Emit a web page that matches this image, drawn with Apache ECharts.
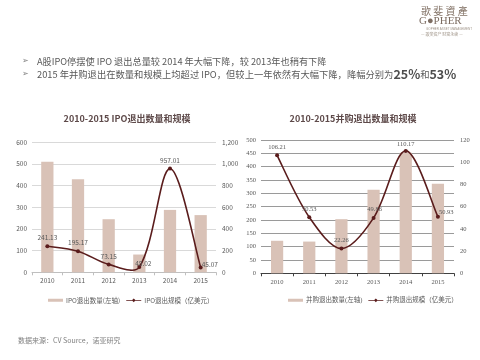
<!DOCTYPE html>
<html><head><meta charset="utf-8">
<script src="https://cdn.jsdelivr.net/npm/echarts@6/dist/echarts.min.js"></script>
<style>html,body{margin:0;padding:0;background:#fff}#c{width:480px;height:360px}</style>
</head><body><div id="c"></div>
<script>
// ---- data ----
const years = ['2010', '2011', '2012', '2013', '2014', '2015'];
const ipoCount = [510, 430, 245, 82, 288, 264];
const ipoScale = [241.13, 195.17, 73.15, 48.02, 957.01, 45.07];
const maCount = [122, 119, 203, 313, 452, 336];
const maScale = [106.21, 50.53, 22.26, 49.86, 110.17, 50.93];
const ipoLabelPos = ['top', 'top', 'top', 'top', 'top', 'right'];
const ipoLabelOffset = [[0, 0], [0, 0], [0, 0], [4, 5], [0, 0], [-4, -3]];
const maLabelPos = ['top', 'top', 'top', 'top', 'top', 'right'];
const maLabelOffset = [[0, 0], [0, 0], [0, 0], [1, 0], [0, 2], [-4, -4]];
const names = {
  ipoBar: 'IPO退出数量(左轴)', ipoLine: 'IPO退出规模（亿美元）',
  maBar: '并购退出数量(左轴)', maLine: '并购退出规模（亿美元）'
};
const titleLeft = '2010-2015 IPO退出数量和规模';
const titleRight = '2010-2015并购退出数量和规模';
const bullet1 = 'A股IPO停摆使 IPO 退出总量较 2014 年大幅下降，较 2013年也稍有下降';
const bullet2a = '2015 年并购退出在数量和规模上均超过 IPO，但较上一年依然有大幅下降，降幅分别为';
const source = '数据来源：CV Source，诺亚研究';

const LINE = '#5a1c1c';
const BAR = '#d9c2b7';
const TXT = '#595959';
const SANS = '"Noto Sans CJK SC", "Noto Sans", sans-serif';
const SERIF = '"Liberation Serif", "DejaVu Serif", "Noto Sans CJK SC", serif';

function smoothLine(xi, yi, values, z) {
  return {
    type: 'custom', xAxisIndex: xi, yAxisIndex: yi, silent: true, z: z,
    data: values.map((v, i) => [i, v]),
    encode: { x: 0, y: 1 },
    renderItem: function (params, api) {
      const n = values.length, i = params.dataIndex;
      if (i >= n - 1) return null;
      const P = k => { k = Math.max(0, Math.min(n - 1, k)); return api.coord([k, values[k]]); };
      const p0 = P(i - 1), p1 = P(i), p2 = P(i + 1), p3 = P(i + 2);
      const d = (a, b) => Math.hypot(a[0] - b[0], a[1] - b[1]) || 1e-6;
      const d01 = d(p0, p1), d12 = d(p1, p2), d23 = d(p2, p3);
      const k = 1 / 3;
      const r1 = (i === 0) ? 0.5 : d12 / (d01 + d12);
      const r2 = (i + 2 > n - 1) ? 0.5 : d12 / (d12 + d23);
      const c1 = [p1[0] + (p2[0] - p0[0]) * k * r1, p1[1] + (p2[1] - p0[1]) * k * r1];
      const c2 = [p2[0] - (p3[0] - p1[0]) * k * r2, p2[1] - (p3[1] - p1[1]) * k * r2];
      return {
        type: 'bezierCurve',
        shape: { x1: p1[0], y1: p1[1], x2: p2[0], y2: p2[1], cpx1: c1[0], cpy1: c1[1], cpx2: c2[0], cpy2: c2[1] },
        style: { stroke: LINE, lineWidth: 1.6, fill: 'none' }
      };
    }
  };
}

const chart = echarts.init(document.getElementById('c'), null, { renderer: 'canvas' });
const lineIcon = 'path://M0,1.6H16V2.4H0Z M8,0 L10,2 L8,4 L6,2Z';
const barIcon = 'path://M0,0.5H15V3.5H0Z';

const option = {
  backgroundColor: '#fff',
  animation: false,
  graphic: [
    { type: 'text', left: 421, top: 6, style: { text: '歌 斐 資 產', font: '10px "Noto Sans CJK TC", serif', fill: '#857569' } },
    { type: 'text', left: 419, top: 16, style: { text: 'G\u25CFPHER', font: '11px "Liberation Serif", serif', fill: '#7d6d62' } },
    { type: 'text', left: 426, top: 28, style: { text: 'GOPHER ASSET MANAGEMENT', font: '3px sans-serif', fill: '#a09589' } },
    { type: 'text', left: 421, top: 32, style: { text: '— 歌斐资产 财富永续 —', font: '4px "Noto Sans CJK SC", sans-serif', fill: '#a09589' } },
    { type: 'text', left: 22, top: 57, style: { text: '➢', font: '8px "DejaVu Sans", sans-serif', fill: '#7f7f7f' } },
    { type: 'text', left: 22, top: 70, style: { text: '➢', font: '8px "DejaVu Sans", sans-serif', fill: '#7f7f7f' } },
    { type: 'text', left: 37, top: 57, style: { text: bullet1, font: '9.2px ' + SANS, fill: TXT } },
    { type: 'text', left: 37, top: 68, style: {
        text: '{a|' + bullet2a + '}{b|25%}{a|和}{b|53%}',
        rich: {
          a: { fontSize: 9.3, fontFamily: SANS, fill: TXT, color: TXT },
          b: { fontSize: 12.5, fontWeight: 'bold', fontFamily: SANS, fill: '#4d4d4d', color: '#4d4d4d' }
        }
      } },
    { type: 'text', left: 18, top: 337, style: { text: source, font: '7px ' + SANS, fill: '#7f7f7f' } }
  ],
  title: [
    { text: titleLeft, left: 122, top: 109, textAlign: 'center',
      textStyle: { fontSize: 9, fontWeight: 'bold', color: '#5e4a4a', fontFamily: SANS } },
    { text: titleRight, left: 348, top: 109, textAlign: 'center',
      textStyle: { fontSize: 9, fontWeight: 'bold', color: '#5e4a4a', fontFamily: SANS } }
  ],
  legend: [
    { left: 43, top: 292, itemWidth: 15, itemHeight: 4, itemGap: 6,
      textStyle: { fontSize: 6.5, color: TXT, fontFamily: SANS, padding: [0, 0, 0, -2] },
      data: [{ name: names.ipoBar, icon: barIcon }, { name: names.ipoLine, icon: lineIcon }] },
    { left: 283, top: 292, itemWidth: 15, itemHeight: 4, itemGap: 6,
      textStyle: { fontSize: 6.5, color: TXT, fontFamily: SERIF, padding: [0, 0, 0, -2] },
      data: [{ name: names.maBar, icon: barIcon }, { name: names.maLine, icon: lineIcon }] }
  ],
  grid: [
    { left: 32, right: 264, top: 142.3, bottom: 87.7 },
    { left: 261, right: 26, top: 140, bottom: 86.7 }
  ],
  xAxis: [
    { type: 'category', gridIndex: 0, data: years,
      axisLine: { lineStyle: { color: '#bfbfbf' } },
      axisTick: { show: true, length: 3, lineStyle: { color: '#bfbfbf' } },
      axisLabel: { fontSize: 6.5, color: TXT, fontFamily: SANS, margin: 5 } },
    { type: 'category', gridIndex: 1, data: years,
      axisLine: { lineStyle: { color: '#404040' } },
      axisTick: { show: true, length: 3, lineStyle: { color: '#404040' } },
      axisLabel: { fontSize: 6.5, color: TXT, fontFamily: SERIF, margin: 6 } }
  ],
  yAxis: [
    { type: 'value', gridIndex: 0, min: 0, max: 600, interval: 100,
      axisLine: { show: false }, axisTick: { show: false },
      axisLabel: { fontSize: 6.5, color: TXT, fontFamily: SANS, margin: 5 },
      splitLine: { lineStyle: { color: '#d9d9d9' } } },
    { type: 'value', gridIndex: 0, min: 0, max: 1200, interval: 200, position: 'right',
      axisLine: { show: false }, axisTick: { show: false },
      axisLabel: { fontSize: 6.5, color: TXT, fontFamily: SANS, margin: 6,
        formatter: v => v.toLocaleString('en-US') },
      splitLine: { show: false } },
    { type: 'value', gridIndex: 1, min: 0, max: 500, interval: 50,
      axisLine: { show: false }, axisTick: { show: false },
      axisLabel: { fontSize: 6.5, color: TXT, fontFamily: SERIF, margin: 5 },
      splitLine: { lineStyle: { color: '#9a9a9a' } } },
    { type: 'value', gridIndex: 1, min: 0, max: 120, interval: 20, position: 'right',
      axisLine: { show: false }, axisTick: { show: false },
      axisLabel: { fontSize: 6.5, color: TXT, fontFamily: SERIF, margin: 6 },
      splitLine: { show: false } }
  ],
  series: [
    { name: names.ipoBar, type: 'bar', xAxisIndex: 0, yAxisIndex: 0, data: ipoCount,
      barWidth: '40%', itemStyle: { color: BAR }, z: 2 },
    smoothLine(0, 1, ipoScale, 3),
    { name: names.ipoLine, type: 'line', xAxisIndex: 0, yAxisIndex: 1, z: 4,
      data: ipoScale.map((v, i) => ({ value: v, label: { position: ipoLabelPos[i], offset: ipoLabelOffset[i] } })),
      symbol: 'circle', symbolSize: 4, lineStyle: { opacity: 0, width: 0 },
      itemStyle: { color: LINE },
      label: { show: true, fontSize: 6.5, color: TXT, fontFamily: SANS, distance: 3,
        formatter: p => p.value.toFixed(2) } },
    { name: names.maBar, type: 'bar', xAxisIndex: 1, yAxisIndex: 2, data: maCount,
      barWidth: '38%', itemStyle: { color: BAR }, z: 2 },
    smoothLine(1, 3, maScale, 3),
    { name: names.maLine, type: 'line', xAxisIndex: 1, yAxisIndex: 3, z: 4,
      data: maScale.map((v, i) => ({ value: v, label: { position: maLabelPos[i], offset: maLabelOffset[i] } })),
      symbol: 'circle', symbolSize: 4, lineStyle: { opacity: 0, width: 0 },
      itemStyle: { color: LINE },
      label: { show: true, fontSize: 6.5, color: TXT, fontFamily: SERIF, distance: 3,
        formatter: p => p.value.toFixed(2) } }
  ]
};
chart.setOption(option);
</script></body></html>
